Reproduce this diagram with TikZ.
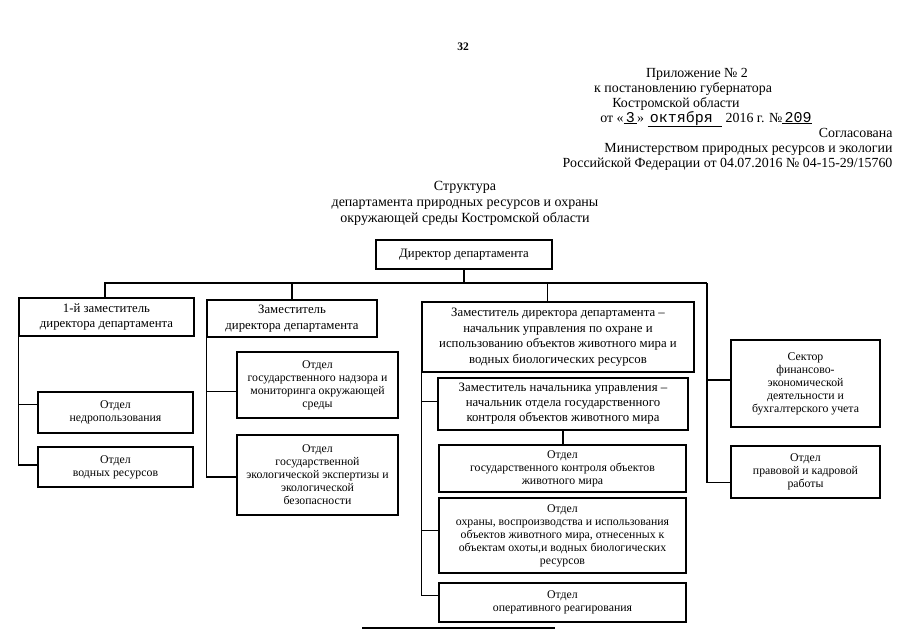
\documentclass[tikz,border=0pt]{standalone}
\usepackage{fontspec}
\setmainfont{Liberation Serif}
\newfontfamily\monof{Liberation Mono}
\usetikzlibrary{calc}
\newcommand\ulfill[1]{\underline{#1}}
\begin{document}
\begin{tikzpicture}[x=1pt,y=-1pt,line width=1.1pt]
\tikzset{
  span/.style n args={4}{at={({(#1+#3)/2},{(#2+#4)/2})}, minimum width={(#3-#1)*1pt}, minimum height={(#4-#2)*1pt}},
  orgbox/.style={draw, line width=1.1pt, inner sep=0pt, align=center, font=\fontsize{12.8}{15.6}\selectfont},
  subbox/.style={orgbox, font=\fontsize{11.8}{13}\selectfont},
  conn/.style={line width=1.1pt},
  hdr/.style={inner sep=0pt, anchor=base, font=\fontsize{13.9}{15}\selectfont},
  hdrr/.style={hdr, anchor=base east},
}
\useasboundingbox[fill=white] (0,0) rectangle (905,640);

% page number
\node[hdr, font=\fontsize{11.5}{12}\selectfont\bfseries] (pnum) at (463,50) {32};

% header
\node[hdr] (h1) at (697,77) {Приложение № 2};
\node[hdr] (h2) at (683,92) {к постановлению губернатора};
\node[hdr] (h3) at (676,107) {Костромской области};
\node[hdr] (h4) at (706,122) {от «\ulfill{\,{\monof\fontsize{15}{15}\selectfont 3}\,}» \ulfill{\,{\monof\fontsize{15}{15}\selectfont октября}\,\,\,\,} 2016 г. №\ulfill{\,{\monof\fontsize{15}{15}\selectfont 209}}};
\node[hdrr] (h5) at (893,137) {Согласована};
\node[hdrr] (h6) at (893,152) {Министерством природных ресурсов и экологии};
\node[hdrr] (h7) at (893,167) {Российской Федерации от 04.07.2016 № 04-15-29/15760};

% title
\node[inner sep=0pt, align=center, font=\fontsize{14}{16}\selectfont] (title) at (465,203)
  {Структура\\департамента природных ресурсов и охраны\\окружающей среды Костромской области};

% boxes
\node[orgbox, span={376}{240}{552}{269}] (dir) {Директор департамента};
\node[orgbox, span={19}{298}{194}{336}] (z1) {1-й заместитель\\директора департамента};
\node[orgbox, span={207}{300}{377}{337}] (z2) {Заместитель\\директора департамента};
\node[orgbox, span={422}{302}{694}{372}] (z3) {Заместитель директора департамента –\\начальник управления по охране и\\использованию объектов животного мира и\\водных биологических ресурсов};
\node[orgbox, span={438}{378}{688}{430}, font=\fontsize{12.8}{15}\selectfont] (z3a) {Заместитель начальника управления –\\начальник отдела государственного\\контроля объектов животного мира};

\node[subbox, span={38}{392}{193}{433}] (n1) {Отдел\\недропользования};
\node[subbox, span={38}{447}{193}{487}] (n2) {Отдел\\водных ресурсов};
\node[subbox, span={237}{352}{398}{418}] (n3) {Отдел\\государственного надзора и\\мониторинга окружающей\\среды};
\node[subbox, span={237}{435}{398}{515}] (n4) {Отдел\\государственной\\экологической экспертизы и\\экологической\\безопасности};
\node[subbox, span={439}{445}{686}{492}] (n5) {Отдел\\государственного контроля объектов\\животного мира};
\node[subbox, span={439}{498}{686}{573}] (n6) {Отдел\\охраны, воспроизводства и использования\\объектов животного мира, отнесенных к\\объектам охоты,и водных биологических\\ресурсов};
\node[subbox, span={439}{583}{686}{622}] (n7) {Отдел\\оперативного реагирования};
\node[subbox, span={731}{340}{880}{427}] (s1) {Сектор\\финансово-\\экономической\\деятельности и\\бухгалтерского учета};
\node[subbox, span={731}{446}{880}{498}] (s2) {Отдел\\правовой и кадровой\\работы};

% bus
\coordinate (busL) at (105,283);
\coordinate (busR) at (707,283);
\coordinate (z3top) at ($(z3.north west)!0.463!(z3.north east)$);
\draw[conn] (dir.south) -- (dir.south |- busL);
\draw[conn] (busL |- z1.north) -- (busL) -- (busR);
\draw[conn] (z2.north) -- (z2.north |- busL);
\draw[conn] (z3top) -- (z3top |- busL);

% first deputy branch
\coordinate (c1) at ($(n1.north west)!0.32!(n1.south west)$);
\coordinate (c2) at ($(n2.north west)!0.45!(n2.south west)$);
\draw[conn] (z1.south west) |- (c2);
\draw[conn] (z1.south west |- c1) -- (c1);

% deputy branch
\coordinate (c3) at ($(n3.north west)!0.6!(n3.south west)$);
\coordinate (c4) at ($(n4.north west)!0.525!(n4.south west)$);
\draw[conn] (z2.south west) |- (c4);
\draw[conn] (z2.south west |- c3) -- (c3);

% big deputy branch
\coordinate (c5) at ($(z3a.north west)!0.46!(z3a.south west)$);
\coordinate (c6) at ($(n6.north west)!0.43!(n6.south west)$);
\coordinate (c7) at ($(n7.north west)!0.33!(n7.south west)$);
\draw[conn] (z3.south west) |- (c7);
\draw[conn] (z3.south west |- c5) -- (c5);
\draw[conn] (z3.south west |- c6) -- (c6);
\draw[conn] (z3a.south) -- (z3a.south |- n5.north);

% right branch
\coordinate (c8) at ($(s1.north west)!0.46!(s1.south west)$);
\coordinate (c9) at ($(s2.north west)!0.69!(s2.south west)$);
\draw[conn] (busR) |- (c9);
\draw[conn] (busR |- c8) -- (c8);

% footnote rule
\coordinate (fl) at (362,628);
\coordinate (fr) at (555,628);
\draw[line width=1.1pt] (fl) -- (fr);
\end{tikzpicture}
\end{document}
